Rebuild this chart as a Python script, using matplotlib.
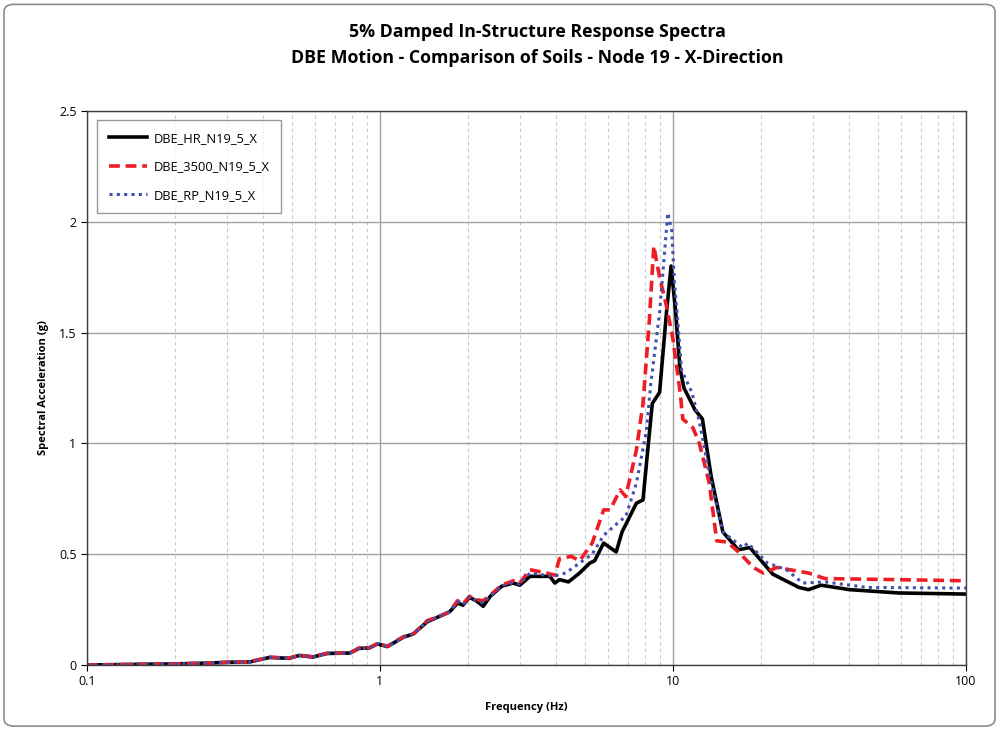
import matplotlib
matplotlib.use('Agg')
import matplotlib.pyplot as plt
from matplotlib.patches import FancyBboxPatch
from matplotlib.ticker import LogLocator, FixedLocator, NullFormatter

# --- data ---
f_hr = [0.1, 0.2, 0.25, 0.3, 0.36, 0.42, 0.49, 0.53, 0.59, 0.66, 0.79, 0.85, 0.92, 0.98, 1.06,
        1.2, 1.3, 1.45, 1.6, 1.73, 1.84, 1.92, 2.02, 2.13, 2.25, 2.38, 2.6, 2.85, 3.0, 3.25,
        3.8, 3.95, 4.1, 4.4, 4.8, 5.2, 5.4, 5.8, 6.4, 6.7, 7.5, 7.9, 8.2, 8.5, 9.0, 9.5, 9.85,
        10.2, 10.56, 10.9, 11.9, 12.6, 13.5, 14.8, 16.7, 18.3, 21.9, 26.9, 29, 32, 40, 59, 100]
v_hr = [0.0, 0.005, 0.008, 0.012, 0.014, 0.034, 0.03, 0.043, 0.036, 0.052, 0.054, 0.075, 0.077, 0.095, 0.083,
        0.125, 0.14, 0.195, 0.22, 0.24, 0.28, 0.27, 0.305, 0.29, 0.265, 0.31, 0.355, 0.37, 0.36, 0.40,
        0.40, 0.37, 0.385, 0.375, 0.415, 0.46, 0.47, 0.55, 0.51, 0.60, 0.73, 0.745, 0.97, 1.18, 1.23, 1.59, 1.80,
        1.60, 1.34, 1.25, 1.15, 1.11, 0.85, 0.60, 0.52, 0.53, 0.41, 0.35, 0.34, 0.36, 0.34, 0.325, 0.32]

f_3500 = [0.1, 0.2, 0.25, 0.3, 0.36, 0.42, 0.49, 0.53, 0.59, 0.66, 0.79, 0.85, 0.92, 0.98, 1.06,
          1.2, 1.3, 1.45, 1.6, 1.73, 1.84, 1.92, 2.02, 2.13, 2.25, 2.38, 2.6, 2.85, 3.0, 3.25,
          3.7, 3.95, 4.1, 4.5, 4.8, 5.3, 5.8, 6.1, 6.6, 6.9, 7.5, 7.9, 8.3, 8.6, 9.0, 9.5, 10.0,
          10.6, 10.8, 11.7, 12.3, 13.3, 14.1, 15.3, 16.9, 18.8, 20.3, 22.6, 29, 33, 59, 100]
v_3500 = [0.0, 0.005, 0.008, 0.012, 0.015, 0.035, 0.031, 0.044, 0.037, 0.053, 0.055, 0.077, 0.078, 0.097, 0.085,
          0.127, 0.14, 0.2, 0.22, 0.24, 0.29, 0.275, 0.31, 0.295, 0.29, 0.315, 0.36, 0.38, 0.37, 0.43,
          0.415, 0.405, 0.48, 0.49, 0.47, 0.55, 0.70, 0.70, 0.79, 0.76, 0.97, 1.18, 1.55, 1.89, 1.75, 1.62, 1.47,
          1.22, 1.11, 1.07, 1.0, 0.82, 0.56, 0.555, 0.505, 0.44, 0.415, 0.44, 0.415, 0.39, 0.385, 0.38]

f_rp = [0.1, 0.2, 0.25, 0.3, 0.36, 0.42, 0.49, 0.53, 0.59, 0.66, 0.79, 0.85, 0.92, 0.98, 1.06,
        1.2, 1.3, 1.45, 1.6, 1.73, 1.84, 1.92, 2.02, 2.13, 2.25, 2.38, 2.6, 2.85, 3.0, 3.25,
        3.9, 4.3, 4.8, 5.3, 5.8, 6.6, 6.9, 7.5, 8.1, 8.4, 9.0, 9.6, 9.9, 10.1, 10.4, 10.7,
        11.6, 12.3, 13.3, 14.8, 17.3, 18.0, 21, 24.4, 27.7, 33, 46, 100]
v_rp = [0.0, 0.005, 0.008, 0.012, 0.014, 0.035, 0.03, 0.044, 0.036, 0.053, 0.054, 0.076, 0.077, 0.096, 0.084,
        0.126, 0.14, 0.197, 0.22, 0.24, 0.285, 0.272, 0.308, 0.292, 0.28, 0.312, 0.357, 0.372, 0.365, 0.415,
        0.40, 0.415, 0.46, 0.50, 0.585, 0.65, 0.67, 0.82, 1.05, 1.27, 1.59, 2.04, 1.96, 1.74, 1.54, 1.33,
        1.23, 1.10, 0.86, 0.60, 0.53, 0.55, 0.46, 0.43, 0.37, 0.375, 0.35, 0.347]

labels = ['DBE_HR_N19_5_X', 'DBE_3500_N19_5_X', 'DBE_RP_N19_5_X']
title = '5% Damped In-Structure Response Spectra\nDBE Motion - Comparison of Soils - Node 19 - X-Direction'

plt.rcParams['font.family'] = ['Open Sans', 'DejaVu Sans']

fig = plt.figure(figsize=(9.99, 7.29), dpi=100)
# outer chart frame
fig.patches.append(FancyBboxPatch((0.004, 0.004), 0.992, 0.99, boxstyle='round,pad=0,rounding_size=0.01',
                                  transform=fig.transFigure, fill=False, ec='#8c8c8c', lw=1.2))
ax = fig.add_axes([0.087, 0.0878, 0.880, 0.760])

ax.plot(f_hr, v_hr, color='black', lw=2.6, label=labels[0])
ax.plot(f_3500, v_3500, color='#ee1c25', lw=2.6, ls=(0, (3, 1.6)), label=labels[1])
ax.plot(f_rp, v_rp, color='#4050b0', lw=2.2, ls=(0, (1, 1.4)), label=labels[2])

ax.set_xscale('log')
ax.set_xlim(0.1, 100)
ax.set_ylim(0, 2.5)
ax.set_yticks([0, 0.5, 1, 1.5, 2, 2.5])
ax.set_yticklabels(['0', '0.5', '1', '1.5', '2', '2.5'])
ax.xaxis.set_major_locator(FixedLocator([0.1, 1, 10, 100]))
ax.set_xticklabels(['0.1', '1', '10', '100'])
ax.xaxis.set_minor_locator(LogLocator(base=10, subs=range(2, 10)))
ax.xaxis.set_minor_formatter(NullFormatter())
ax.tick_params(axis='both', which='major', labelsize=9, length=4, direction='out')
ax.tick_params(axis='x', which='minor', length=0)

ax.grid(True, which='major', color='#a0a0a0', lw=1.0, ls='-')
ax.grid(True, which='minor', axis='x', color='#c8c8c8', lw=0.8, ls=(0, (3, 3)))
ax.set_axisbelow(True)
for s in ax.spines.values():
    s.set_color('#404040')
    s.set_linewidth(1.0)

ax.set_xlabel('Frequency (Hz)', fontsize=8, fontweight='bold', labelpad=10)
ax.set_ylabel('Spectral Acceleration (g)', fontsize=8, fontweight='bold', labelpad=7)
fig.text(0.538, 0.938, title, ha='center', va='center', fontsize=12.8, fontweight='bold', linespacing=1.55)

leg = ax.legend(loc='upper left', bbox_to_anchor=(0.004, 0.995), fontsize=9.3, frameon=True, fancybox=False,
                edgecolor='#808080', handlelength=3.0, handletextpad=0.5, labelspacing=1.2, borderpad=0.9)
leg.get_frame().set_linewidth(1.0)

fig.savefig('out.png', dpi=100)
